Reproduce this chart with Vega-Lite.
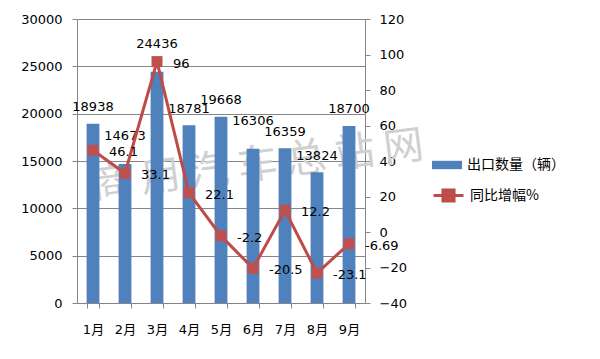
{
  "$schema": "https://vega.github.io/schema/vega-lite/v6.json",
  "width": 288,
  "height": 284,
  "autosize": {"type": "none"},
  "padding": {"left": 77, "top": 19, "right": 235, "bottom": 56},
  "background": "#ffffff",
  "data": {
    "values": [
      {"month": "1月", "qty": 18938, "yoy": 46.1, "yoyLabel": "46.1"},
      {"month": "2月", "qty": 14673, "yoy": 33.1, "yoyLabel": "33.1"},
      {"month": "3月", "qty": 24436, "yoy": 96, "yoyLabel": "96"},
      {"month": "4月", "qty": 18781, "yoy": 22.1, "yoyLabel": "22.1"},
      {"month": "5月", "qty": 19668, "yoy": -2.2, "yoyLabel": "-2.2"},
      {"month": "6月", "qty": 16306, "yoy": -20.5, "yoyLabel": "-20.5"},
      {"month": "7月", "qty": 16359, "yoy": 12.2, "yoyLabel": "12.2"},
      {"month": "8月", "qty": 13824, "yoy": -23.1, "yoyLabel": "-23.1"},
      {"month": "9月", "qty": 18700, "yoy": -6.69, "yoyLabel": "-6.69"}
    ]
  },
  "encoding": {
    "x": {
      "field": "month",
      "type": "ordinal",
      "sort": null,
      "scale": {"domain": ["1月", "2月", "3月", "4月", "5月", "6月", "7月", "8月", "9月"], "paddingInner": 0.6, "paddingOuter": 0.3},
      "axis": {
        "title": null,
        "labelAngle": 0,
        "tickBand": "extent",
        "tickSize": 5,
        "labelPadding": 15,
        "labelFont": "DejaVu Sans, Noto Sans CJK SC",
        "labelFontSize": 13
      }
    }
  },
  "layer": [
    {
      "encoding": {
        "y": {
          "type": "quantitative",
          "scale": {"domain": [0, 30000], "nice": false},
          "axis": {
            "title": null,
            "format": "d",
            "values": [0, 5000, 10000, 15000, 20000, 25000, 30000],
            "grid": true,
            "tickSize": 5,
            "labelPadding": 10
          }
        }
      },
      "layer": [
        {
          "data": {"values": [{"mark": "商用汽车总站网"}]},
          "mark": {"type": "text", "text": "商 用 汽 车 总 站 网", "font": "Noto Sans CJK SC", "fontSize": 40, "angle": -7, "fill": "#d0d0d0", "align": "center", "baseline": "middle", "dx": 37, "zindex": 0},
          "encoding": {
            "x": {"datum": "5月"},
            "y": {"datum": 14000}
          }
        },
        {
          "mark": {"type": "bar", "orient": "vertical", "zindex": 1},
          "encoding": {
            "y": {"field": "qty"},
            "color": {
              "datum": "出口数量（辆）",
              "scale": {"domain": ["出口数量（辆）"], "range": ["#4F81BD"]},
              "legend": {
                "title": null,
                "orient": "none",
                "legendX": 355,
                "legendY": 131,
                "padding": 0,
                "symbolType": "M-1,-0.28H1V0.28H-1Z",
                "symbolSize": 900,
                "symbolStrokeWidth": 0,
                "labelFont": "Noto Sans CJK SC",
                "labelFontSize": 14,
                "labelColor": "#000000",
                "labelOffset": 5
              }
            }
          }
        },
        {
          "transform": [{"filter": {"field": "month", "oneOf": ["2月", "3月", "6月"]}}],
          "mark": {"type": "text", "baseline": "middle", "align": "center", "dy": -28, "font": "DejaVu Sans", "fontSize": 13, "color": "#000000", "zindex": 2},
          "encoding": {"y": {"field": "qty"}, "text": {"field": "qty", "type": "quantitative", "format": "d"}}
        },
        {
          "transform": [{"filter": {"not": {"field": "month", "oneOf": ["2月", "3月", "6月"]}}}],
          "mark": {"type": "text", "baseline": "middle", "align": "center", "dy": -16.5, "font": "DejaVu Sans", "fontSize": 13, "color": "#000000", "zindex": 2},
          "encoding": {"y": {"field": "qty"}, "text": {"field": "qty", "type": "quantitative", "format": "d"}}
        }
      ]
    },
    {
      "encoding": {
        "y": {
          "field": "yoy",
          "type": "quantitative",
          "scale": {"domain": [-40, 120], "nice": false},
          "axis": {
            "title": null,
            "orient": "right",
            "values": [-40, -20, 0, 20, 40, 60, 80, 100, 120],
            "grid": false,
            "tickSize": 5,
            "labelPadding": 9
          }
        }
      },
      "layer": [
        {
          "mark": {"type": "line", "strokeWidth": 3, "zindex": 3},
          "encoding": {
            "stroke": {
              "datum": "同比增幅%",
              "scale": {"domain": ["同比增幅%"], "range": ["#BE4B48"]},
              "legend": {
                "title": null,
                "orient": "none",
                "legendX": 355,
                "legendY": 160,
                "padding": 0,
                "symbolType": "M-1,0H1M-0.37,-0.37H0.37V0.37H-0.37Z",
                "symbolSize": 900,
                "symbolStrokeWidth": 3,
                "symbolFillColor": "#C0504D",
                "labelFont": "Noto Sans CJK SC",
                "labelFontSize": 14,
                "labelColor": "#000000",
                "labelOffset": 5,
                "encode": {"symbols": {"update": {"fill": {"value": "#C0504D"}}}}
              }
            }
          }
        },
        {
          "mark": {"type": "square", "size": 121, "filled": true, "color": "#C0504D", "opacity": 1, "zindex": 4}
        },
        {
          "mark": {"type": "text", "align": "left", "baseline": "middle", "dx": 16, "dy": 2, "font": "DejaVu Sans", "fontSize": 13, "color": "#000000", "zindex": 5},
          "encoding": {"text": {"field": "yoyLabel"}}
        }
      ]
    }
  ],
  "resolve": {"scale": {"y": "independent"}},
  "config": {
    "view": {"stroke": null},
    "axis": {
      "labelFont": "DejaVu Sans",
      "labelFontSize": 13,
      "labelColor": "#000000",
      "domainColor": "#868686",
      "tickColor": "#868686",
      "gridColor": "#868686",
      "domainWidth": 1,
      "gridWidth": 1,
      "tickWidth": 1
    }
  }
}
